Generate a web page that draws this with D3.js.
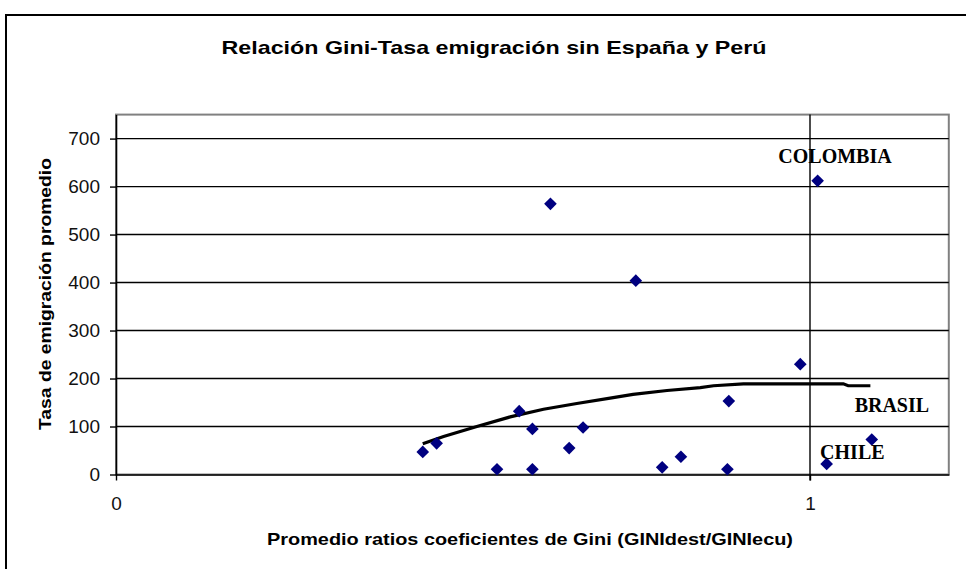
<!DOCTYPE html>
<html>
<head>
<meta charset="utf-8">
<script src="https://cdn.jsdelivr.net/npm/d3@7"></script>
<style>
  body { margin: 0; background: #fff; }
  svg { display: block; }
</style>
</head>
<body>
<svg id="chart"></svg>
<script>
// ratio Gini (x) and emigration rate (y) per country
const giniRatio = [0.442, 0.462, 0.549, 0.581, 0.600, 0.600, 0.626, 0.653, 0.673, 0.749, 0.787, 0.814, 0.883, 0.881, 0.986, 1.011, 1.024, 1.089];
const tasaEmig  = [47, 65, 11, 132, 95, 11, 564, 55, 98, 404, 15, 37, 153, 11, 230, 612, 22, 73];

// trendline
const trendX = [0.442, 0.472, 0.520, 0.568, 0.616, 0.664, 0.712, 0.745, 0.794, 0.842, 0.861, 0.904, 0.986, 1.048, 1.055, 1.087];
const trendY = [64, 79, 100, 120, 136, 148, 159, 167, 175, 181, 185, 189, 189, 189, 185, 185];

const yTicks = [0, 100, 200, 300, 400, 500, 600, 700];
const xTicks = [0, 1];

const labels = ["COLOMBIA", "BRASIL", "CHILE"];
const labelX = [1.036, 1.118, 1.061];
const labelY = [650, 130, 33];

const W = 966, H = 569;
const svg = d3.select("#chart").attr("width", W).attr("height", H);

// outer chart frame
svg.append("rect")
  .attr("x", 6).attr("y", 15).attr("width", 1000).attr("height", 600)
  .attr("fill", "none").attr("stroke", "#000").attr("stroke-width", 2);

var x = d3.scaleLinear().domain([0, 1.2]).range([116, 948.8]);
var y = d3.scaleLinear().domain([0, 750]).range([474.5, 114.6]);

// plot area border (grey)
svg.append("rect")
  .attr("x", x(0)).attr("y", y(750))
  .attr("width", x(1.2) - x(0)).attr("height", y(0) - y(750))
  .attr("fill", "none").attr("stroke", "#808080").attr("stroke-width", 2);

// gridlines
svg.append("g").selectAll("line")
  .data(yTicks.filter(d => d > 0))
  .join("line")
  .attr("x1", x(0)).attr("x2", x(1.2))
  .attr("y1", d => y(d)).attr("y2", d => y(d))
  .attr("stroke", "#000").attr("stroke-width", 1.4);

svg.append("line")
  .attr("x1", x(1)).attr("x2", x(1))
  .attr("y1", y(750)).attr("y2", y(0) + 6)
  .attr("stroke", "#000").attr("stroke-width", 1.4);

// axes
var yAxis = d3.axisLeft(y).tickValues(yTicks).tickSize(6).tickPadding(10).tickSizeOuter(0);
var gy = svg.append("g").attr("transform", "translate(" + x(0) + ",0)").call(yAxis);
gy.select(".domain").attr("stroke", "#000").attr("stroke-width", 1.6);
gy.selectAll("line").attr("stroke", "#000").attr("stroke-width", 1.4);
gy.selectAll("text")
  .attr("font-family", "'Liberation Sans', Arial, sans-serif")
  .attr("font-size", 19).attr("fill", "#111");

var xAxis = d3.axisBottom(x).tickValues(xTicks).tickFormat(d3.format("d")).tickSize(6).tickPadding(16).tickSizeOuter(0);
var gx = svg.append("g").attr("transform", "translate(0," + y(0) + ")").call(xAxis);
gx.select(".domain").attr("stroke", "#000").attr("stroke-width", 1.6);
gx.selectAll("line").attr("stroke", "#000").attr("stroke-width", 1.4);
gx.selectAll("text")
  .attr("font-family", "'Liberation Sans', Arial, sans-serif")
  .attr("font-size", 19).attr("fill", "#111");

// trendline
var line = d3.line().x((d, i) => x(trendX[i])).y(d => y(d));
svg.append("path")
  .datum(trendY)
  .attr("d", line)
  .attr("fill", "none").attr("stroke", "#000").attr("stroke-width", 3.2);

// diamonds
var diamond = d3.symbol().type(d3.symbolSquare).size(80);
svg.append("g").selectAll("path")
  .data(giniRatio)
  .join("path")
  .attr("d", diamond)
  .attr("transform", (d, i) => "translate(" + x(d) + "," + y(tasaEmig[i]) + ") rotate(45)")
  .attr("fill", "#000080");

// country labels
svg.append("g").selectAll("text")
  .data(labels)
  .join("text")
  .attr("x", (d, i) => x(labelX[i]))
  .attr("y", (d, i) => y(labelY[i]))
  .attr("text-anchor", "middle")
  .attr("font-family", "'Liberation Serif', 'Times New Roman', serif")
  .attr("font-weight", "bold").attr("font-size", 20)
  .text(d => d);

// titles
svg.append("text")
  .attr("x", 494).attr("y", 54)
  .attr("text-anchor", "middle")
  .attr("font-family", "'Liberation Sans', Arial, sans-serif")
  .attr("font-weight", "bold").attr("font-size", 19)
  .attr("textLength", 545).attr("lengthAdjust", "spacingAndGlyphs")
  .text("Relación Gini-Tasa emigración sin España y Perú");

svg.append("text")
  .attr("x", 530).attr("y", 545)
  .attr("text-anchor", "middle")
  .attr("font-family", "'Liberation Sans', Arial, sans-serif")
  .attr("font-weight", "bold").attr("font-size", 17)
  .attr("textLength", 526).attr("lengthAdjust", "spacingAndGlyphs")
  .text("Promedio ratios coeficientes de Gini (GINIdest/GINIecu)");

svg.append("text")
  .attr("transform", "translate(51,294) rotate(-90)")
  .attr("text-anchor", "middle")
  .attr("font-family", "'Liberation Sans', Arial, sans-serif")
  .attr("font-weight", "bold").attr("font-size", 17)
  .attr("textLength", 272).attr("lengthAdjust", "spacingAndGlyphs")
  .text("Tasa de emigración promedio");
</script>
</body>
</html>
